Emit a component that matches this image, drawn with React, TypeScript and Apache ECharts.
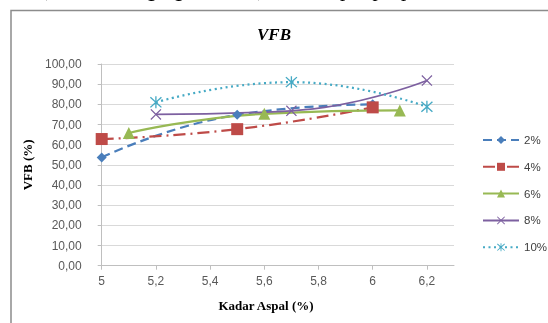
import React, { useEffect, useRef } from "react";
import * as echarts from "echarts";

const seriesNames = ["2%", "4%", "6%", "8%", "10%"];
const xTicks = [5, 5.2, 5.4, 5.6, 5.8, 6, 6.2];
const s2: number[][] = [[5, 53.7], [5.5, 74.8], [6, 80.0]];
const s4: number[][] = [[5, 62.8], [5.5, 67.7], [6, 78.5]];
const s6: number[][] = [[5.1, 65.8], [5.6, 75.3], [6.1, 77.0]];
const s8: number[][] = [[5.2, 75.0], [5.7, 76.8], [6.2, 91.8]];
const s10: number[][] = [[5.2, 81.0], [5.7, 91.0], [6.2, 78.8]];

const xMark = "path://M0,0.8 L0.8,0 L5,4.2 L9.2,0 L10,0.8 L5.8,5 L10,9.2 L9.2,10 L5,5.8 L0.8,10 L0,9.2 L4.2,5 Z";
const starMark = "path://M0,0.8 L0.8,0 L5,4.2 L9.2,0 L10,0.8 L5.8,5 L10,9.2 L9.2,10 L5,5.8 L0.8,10 L0,9.2 L4.2,5 Z M4.45,-0.5 L5.55,-0.5 L5.55,10.5 L4.45,10.5 Z";

export default function App() {
  const ref = useRef<HTMLDivElement>(null);
  useEffect(() => {
    if (!ref.current) return;
    const chart = echarts.init(ref.current, null, { renderer: "svg" });
    const mk = (name: string, data: number[][], color: string, type: any, symbol: string, size: number, width = 2.25) => ({
      name,
      type: "line",
      data,
      smooth: 0.5,
      symbol,
      symbolSize: size,
      itemStyle: { color },
      lineStyle: { color, width, type },
      emphasis: { disabled: true },
    });
    chart.setOption({
      animation: false,
      textStyle: { fontFamily: "Liberation Sans" },
      graphic: [
        { type: "rect", shape: { x: 11, y: 10.5, width: 700, height: 500 }, style: { fill: "none", stroke: "#8c8c8c", lineWidth: 1.5 } },
        { type: "text", x: 42, y: -1, style: { text: "(Substitusi Agregat Kasar) + 6% sepolipropilen", font: "italic 21px 'Liberation Serif'", fill: "#000", textVerticalAlign: "bottom" } },
        { type: "text", x: 274, y: 34, style: { text: "VFB", font: "italic bold 17px 'Liberation Serif'", fill: "#000", textAlign: "center", textVerticalAlign: "middle" } },
        { type: "text", x: 266, y: 305, style: { text: "Kadar Aspal (%)", font: "bold 13px 'Liberation Serif'", fill: "#000", textAlign: "center", textVerticalAlign: "middle" } },
      ],
      grid: { left: 101.7, right: 94, top: 64, bottom: 57.3, containLabel: false },
      legend: {
        orient: "vertical",
        left: 482,
        top: 134,
        padding: 0,
        itemWidth: 36,
        itemHeight: 10,
        itemGap: 14.8,
        data: seriesNames,
        textStyle: { fontSize: 11.5, color: "#404040", fontFamily: "Liberation Sans" },
      },
      xAxis: {
        type: "value",
        min: 5,
        max: 6.3,
        interval: 0.2,
        splitLine: { show: false },
        axisLine: { lineStyle: { color: "#bfbfbf", width: 1 } },
        axisTick: { show: true, length: 4, inside: false, customValues: xTicks, lineStyle: { color: "#bfbfbf" } },
        axisLabel: {
          customValues: xTicks,
          margin: 9,
          fontSize: 12,
          color: "#595959",
          formatter: (v: number) => String(Math.round(v * 10) / 10).replace(".", ","),
        },
      },
      yAxis: {
        type: "value",
        min: 0,
        max: 100,
        interval: 10,
        name: "VFB (%)",
        nameLocation: "middle",
        nameGap: 64,
        nameTextStyle: { fontFamily: "Liberation Serif", fontWeight: "bold", fontSize: 13, color: "#000" },
        axisLine: { show: true, lineStyle: { color: "#bfbfbf", width: 1 } },
        axisTick: { show: true, length: 4, lineStyle: { color: "#bfbfbf" } },
        splitLine: { lineStyle: { color: "#d9d9d9", width: 1 } },
        axisLabel: {
          margin: 20,
          fontSize: 12,
          color: "#595959",
          formatter: (v: number) => v.toFixed(2).replace(".", ","),
        },
      },
      series: [
        mk("2%", s2, "#4a7ebb", [9, 5], "diamond", 10),
        mk("4%", s4, "#be4b48", [12, 5, 2, 5], "rect", 12),
        mk("6%", s6, "#98b954", "solid", "triangle", 12),
        mk("8%", s8, "#7d60a0", "solid", xMark, 11, 1.75),
        mk("10%", s10, "#46aac5", [2, 3.5], starMark, 12),
      ],
    });
    return () => chart.dispose();
  }, []);
  return <div ref={ref} style={{ position: "fixed", left: 0, top: 0, width: 548, height: 323 }} />;
}
